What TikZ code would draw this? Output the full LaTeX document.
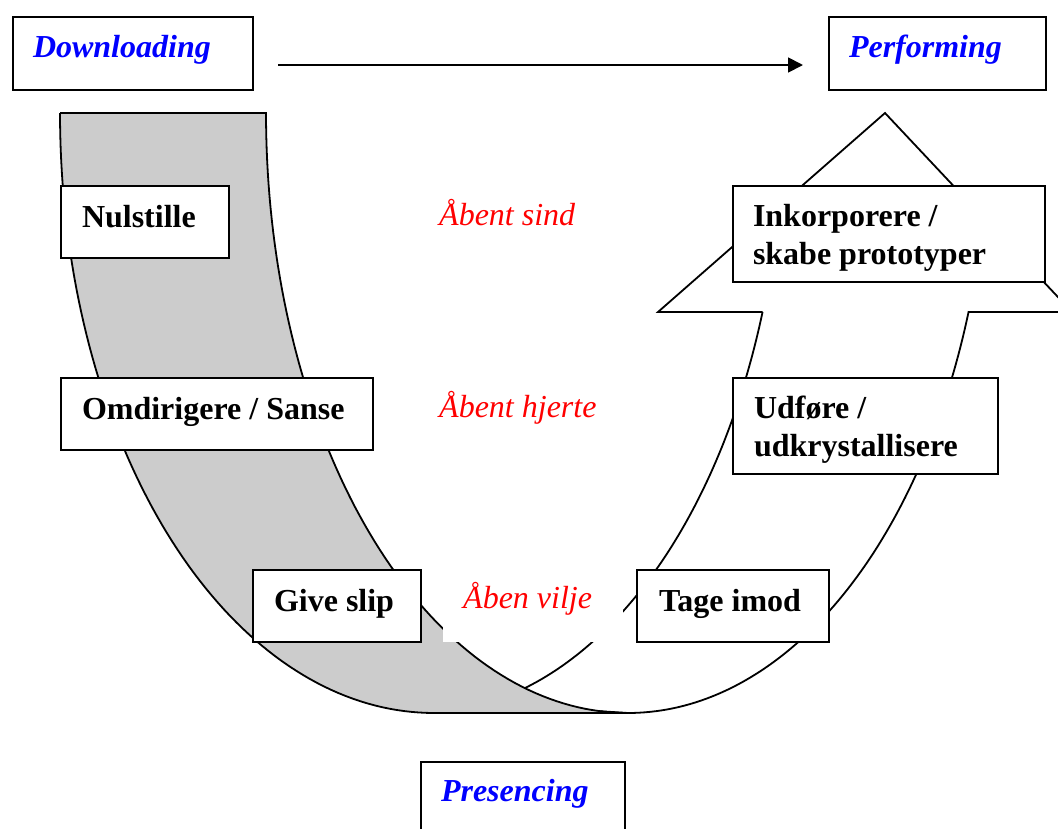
\documentclass[tikz,border=0pt]{standalone}
\usepackage{fontspec}
\setmainfont{Liberation Serif}
\usetikzlibrary{arrows.meta}
\definecolor{bandgrey}{RGB}{204,204,204}
\newcommand\fixspaces{\spaceskip=8pt\relax}
\tikzset{
  box/.style={draw, line width=2pt, fill=white, anchor=north west, inner ysep=0pt, align=left,
    font=\bfseries\fontsize{32}{38}\selectfont, execute at begin node=\fixspaces},
  stagebox/.style={box, text=blue, font=\bfseries\itshape\fontsize{32}{38}\selectfont},
  quality/.style={text=red, font=\itshape\fontsize{32}{38}\selectfont, anchor=base west, inner sep=0pt,
    execute at begin node=\fixspaces},
  band/.style={draw, line width=1.8pt, line join=miter},
  flow/.style={line width=1.8pt, -{Triangle[length=15pt,width=15pt]}}
}
\begin{document}
\begin{tikzpicture}[x=1pt, y=-1pt]
\useasboundingbox (0,0) rectangle (1058,828);
\clip (0,0) rectangle (1058,828);

% right (rising) arrow band
\draw[band, fill=white] (762.6,312) -- (658,312) -- (885,113) -- (1072,312) -- (968.6,312)
  -- plot[domain=-19.37:-90, samples=80, variable=\t] ({628+361*cos(\t)},{113-600*sin(\t)})
  -- plot[domain=-80:-19.37, samples=80, variable=\t] ({422+361*cos(\t)},{113-600*sin(\t)})
  -- cycle;

% left (descending) grey band
\draw[band, fill=bandgrey] (60,113) -- (266,113)
  -- plot[domain=180:270, samples=80, variable=\t] ({628+362*cos(\t)},{113-600*sin(\t)})
  -- plot[domain=270:180, samples=80, variable=\t] ({434+374*cos(\t)},{113-600*sin(\t)})
  -- cycle;

% stage boxes
\node[stagebox, inner xsep=20pt, text width=200pt, text height=40pt, text depth=33pt] (dl) at (12,16) {Downloading};
\node[stagebox, inner xsep=20pt, text width=177pt, text height=40pt, text depth=33pt] (pf) at (828,16) {Performing};
\node[stagebox, inner xsep=20pt, text width=164pt, text height=39pt, text depth=70pt] (pr) at (420,761) {Presencing};

\draw[flow] ([shift={(24pt,-11.5pt)}]dl.east) -- ([shift={(-25pt,-11.5pt)}]pf.west);

% step boxes
\node[box, inner xsep=21pt, text width=126pt, text height=41pt, text depth=31pt] (nul) at (60,185) {Nulstille};
\node[box, inner xsep=21pt, text width=270pt, text height=41pt, text depth=31pt] (omd) at (60,377) {Omdirigere / Sanse};
\node[box, inner xsep=21pt, text width=126pt, text height=41pt, text depth=31pt] (giv) at (252,569) {Give slip};
\node[box, inner xsep=22pt, text width=148pt, text height=41pt, text depth=31pt] (tag) at (636,569) {Tage imod};
\node[box, inner xsep=21pt, text width=223pt, text height=40pt, text depth=56pt] (udf) at (732,377) {Udføre /\\udkrystallisere};
\node[box, inner xsep=20pt, text width=272pt, text height=40pt, text depth=56pt] (ink) at (732,185) {Inkorporere /\\skabe prototyper};

% openings
\node[quality] (sind) at (439,225) {Åbent sind};
\node[quality] (hjerte) at (439,417) {Åbent hjerte};
\node[quality, fill=white, anchor=north west, inner xsep=20pt, inner ysep=0pt, text width=140pt, align=left,
  text height=38pt, text depth=34pt] (vilje) at (443,570) {Åben vilje};
\end{tikzpicture}
\end{document}
